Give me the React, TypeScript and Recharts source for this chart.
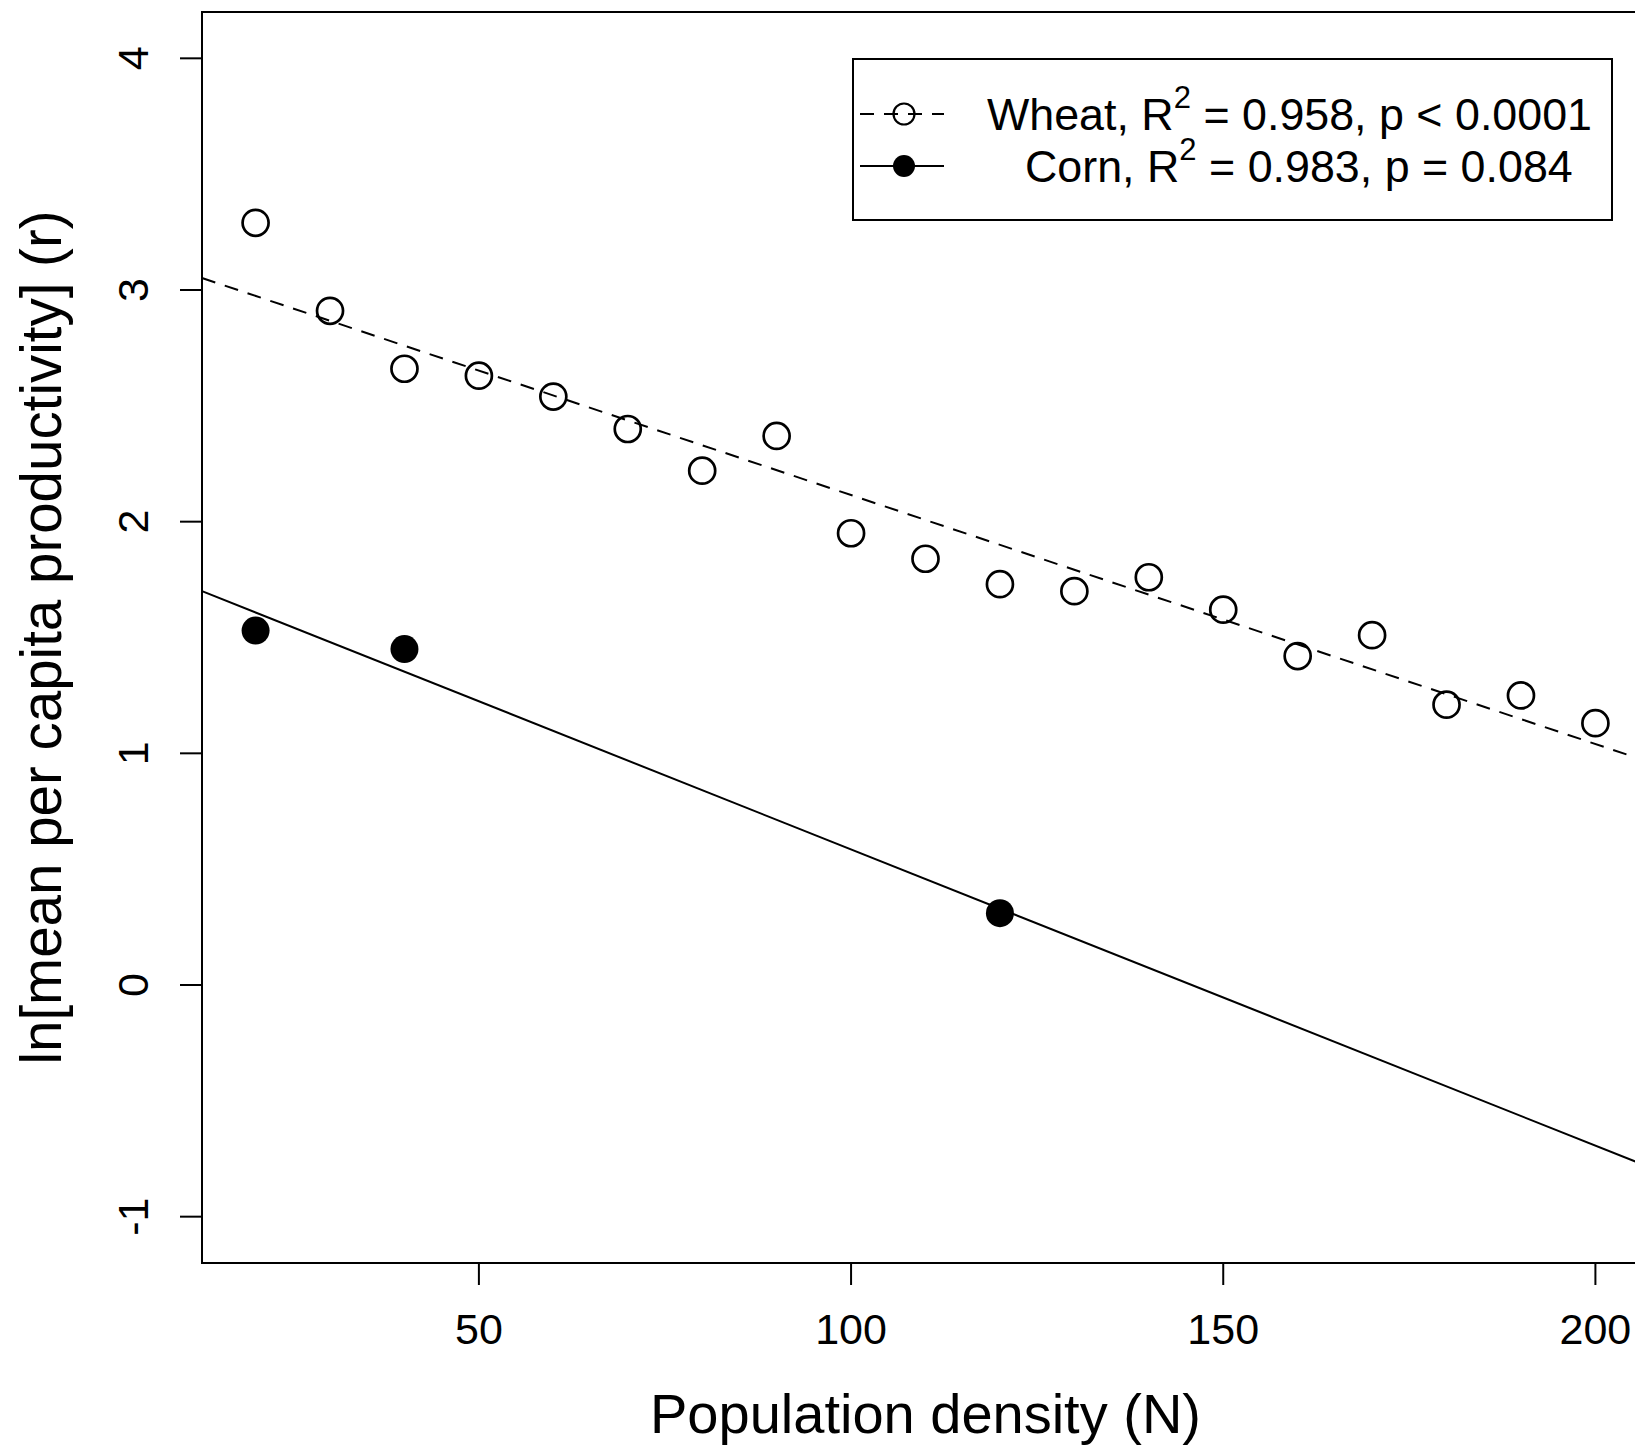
import {
  ScatterChart,
  Scatter,
  XAxis,
  YAxis,
  ReferenceLine,
  ReferenceArea,
  Legend,
} from "recharts";

const FONT = '"Liberation Sans", Arial, Helvetica, sans-serif';

// population density (N) and ln(mean per capita productivity) (r)
const wheatDensity = [20, 30, 40, 50, 60, 70, 80, 90, 100, 110, 120, 130, 140, 150, 160, 170, 180, 190, 200];
const wheatR = [3.29, 2.91, 2.66, 2.63, 2.54, 2.4, 2.22, 2.37, 1.95, 1.84, 1.73, 1.7, 1.76, 1.62, 1.42, 1.51, 1.21, 1.25, 1.13];
const cornDensity = [20, 40, 120];
const cornR = [1.53, 1.45, 0.31];

const xTicks = [50, 100, 150, 200];
const yTicks = [-1, 0, 1, 2, 3, 4];
const xDomain: [number, number] = [12.8, 207.2];
const yDomain: [number, number] = [-1.2, 4.2];

const legendRows = [
  { name: "Wheat", r2: "0.958", p: "p < 0.0001", filled: false, dashed: true },
  { name: "Corn", r2: "0.983", p: "p = 0.084", filled: true, dashed: false },
];

// least squares line
function fit(xs: number[], ys: number[]) {
  const n = xs.length;
  const mx = xs.reduce((s, v) => s + v, 0) / n;
  const my = ys.reduce((s, v) => s + v, 0) / n;
  let sxy = 0;
  let sxx = 0;
  xs.forEach((x, i) => {
    sxy += (x - mx) * (ys[i] - my);
    sxx += (x - mx) * (x - mx);
  });
  const b = sxy / sxx;
  return { a: my - b * mx, b };
}

const wheatData = wheatDensity.map((n, i) => ({ n, r: wheatR[i] }));
const cornData = cornDensity.map((n, i) => ({ n, r: cornR[i] }));
const wheatFit = fit(wheatDensity, wheatR);
const cornFit = fit(cornDensity, cornR);

const segment = (f: { a: number; b: number }) => [
  { x: xDomain[0], y: f.a + f.b * xDomain[0] },
  { x: xDomain[1], y: f.a + f.b * xDomain[1] },
];

const XTick = (props: any) => {
  const { x, y, payload } = props;
  return (
    <text x={x} y={y} dy={59} textAnchor="middle" fontSize={43} fontFamily={FONT} fill="#000">
      {payload.value}
    </text>
  );
};

const YTick = (props: any) => {
  const { x, y, payload } = props;
  return (
    <text
      transform={`translate(${x - 32},${y}) rotate(-90)`}
      textAnchor="middle"
      fontSize={43}
      fontFamily={FONT}
      fill="#000"
    >
      {payload.value}
    </text>
  );
};

const OpenDot = (props: any) => (
  <circle cx={props.cx} cy={props.cy} r={13} fill="none" stroke="#000" strokeWidth={2.7} />
);
const FilledDot = (props: any) => <circle cx={props.cx} cy={props.cy} r={14} fill="#000" />;

const renderLegend = () => (
  <svg width={761} height={163} style={{ display: "block" }}>
    <rect x={1} y={1} width={759} height={161} fill="#fff" stroke="#000" strokeWidth={2} />
    {legendRows.map((row, i) => {
      const cy = 56 + i * 52;
      return (
        <g key={row.name}>
          <line
            x1={8}
            x2={92}
            y1={cy}
            y2={cy}
            stroke="#000"
            strokeWidth={2}
            strokeDasharray={row.dashed ? "14 10" : undefined}
          />
          {row.filled ? (
            <circle cx={52} cy={cy} r={11} fill="#000" />
          ) : (
            <circle cx={52} cy={cy} r={10.5} fill="#fff" fillOpacity={0} stroke="#000" strokeWidth={2.2} />
          )}
          <text
            x={row.filled ? 173 : 135}
            y={cy + 16}
            fontSize={44.8}
            fontFamily={FONT}
            fill="#000"
            style={{ whiteSpace: "pre" }}
          >
            {`${row.name}, R`}
            <tspan dy={-22} fontSize={31}>
              2
            </tspan>
            <tspan dy={22}>{` = ${row.r2}, ${row.p}`}</tspan>
          </text>
        </g>
      );
    })}
  </svg>
);

export default function App() {
  return (
    <div style={{ width: 1635, height: 1449, overflow: "hidden", position: "relative", background: "#fff" }}>
      <style>{`body{margin:0;background:#fff}`}</style>
      <ScatterChart
        width={1660}
        height={1449}
        margin={{ top: 12, right: 11, bottom: 86, left: 102 }}
        style={{ fontFamily: FONT }}
      >
        <XAxis
          type="number"
          dataKey="n"
          domain={xDomain}
          ticks={xTicks}
          interval={0}
          allowDataOverflow
          axisLine={false}
          tickSize={22}
          tickMargin={0}
          tickLine={{ stroke: "#000", strokeWidth: 2 }}
          tick={XTick}
          height={100}
          label={{
            content: () => (
              <text x={925.5} y={1433} textAnchor="middle" fontSize={56} fontFamily={FONT} fill="#000">
                Population density (N)
              </text>
            ),
          }}
        />
        <YAxis
          type="number"
          dataKey="r"
          domain={yDomain}
          ticks={yTicks}
          interval={0}
          allowDataOverflow
          axisLine={false}
          tickSize={22}
          tickMargin={0}
          tickLine={{ stroke: "#000", strokeWidth: 2 }}
          tick={YTick}
          width={100}
          label={{
            content: () => (
              <text
                transform="translate(61,637.5) rotate(-90)"
                textAnchor="middle"
                fontSize={56.5}
                fontFamily={FONT}
                fill="#000"
              >
                ln[mean per capita productivity] (r)
              </text>
            ),
          }}
        />
        <ReferenceArea
          x1={xDomain[0]}
          x2={xDomain[1]}
          y1={yDomain[0]}
          y2={yDomain[1]}
          fill="none"
          stroke="#000"
          strokeWidth={2}
          ifOverflow="visible"
        />
        <Scatter data={wheatData} shape={OpenDot} isAnimationActive={false} />
        <Scatter data={cornData} shape={FilledDot} isAnimationActive={false} />
        <ReferenceLine
          segment={segment(wheatFit)}
          stroke="#000"
          strokeWidth={2}
          strokeDasharray="14 10"
          ifOverflow="visible"
        />
        <ReferenceLine segment={segment(cornFit)} stroke="#000" strokeWidth={2} ifOverflow="visible" />
        <Legend
          layout="vertical"
          align="center"
          verticalAlign="middle"
          content={renderLegend}
          wrapperStyle={{ position: "absolute", left: 852, top: 58, width: 761, height: 163 }}
        />
      </ScatterChart>
    </div>
  );
}
